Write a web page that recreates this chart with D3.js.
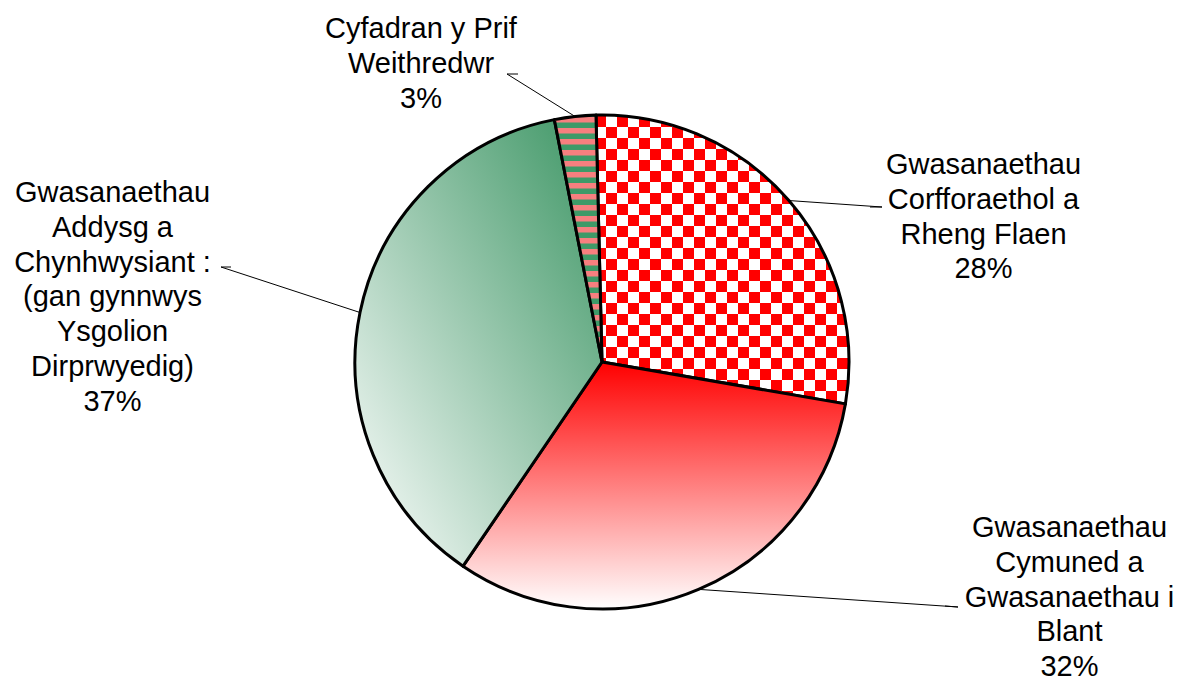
<!DOCTYPE html>
<html>
<head>
<meta charset="utf-8">
<script src="https://cdn.jsdelivr.net/npm/d3@7"></script>
<style>
  html, body { margin: 0; padding: 0; background: #fff; }
  svg { display: block; }
  text { font-family: "Liberation Sans", Arial, sans-serif; fill: #000; }
</style>
</head>
<body>
<svg id="chart" width="1178" height="680"></svg>
<script>
// ---- data ----
const categories = [
  "Gwasanaethau Corfforaethol a Rheng Flaen",
  "Gwasanaethau Cymuned a Gwasanaethau i Blant",
  "Gwasanaethau Addysg a Chynhwysiant : (gan gynnwys Ysgolion Dirprwyedig)",
  "Cyfadran y Prif Weithredwr"
];
const values = [28.1, 31.8, 37.4, 2.7];
const labelLines = [
  ["Gwasanaethau", "Corfforaethol a", "Rheng Flaen"],
  ["Gwasanaethau", "Cymuned a", "Gwasanaethau i", "Blant"],
  ["Gwasanaethau", "Addysg a", "Chynhwysiant :", "(gan gynnwys", "Ysgolion", "Dirprwyedig)"],
  ["Cyfadran y Prif", "Weithredwr"]
];

// ---- layout ----
const W = 1178, H = 680;
const cx = 602, cy = 362, R = 247;
const startDeg = -1.4;
const fontSize = 29, lineH = 34.8;
const labelLayout = [
  { x: 983.5, y: 174,   lead: [[882, 207], [870, 207]] },
  { x: 1069.5, y: 537,  lead: [[958, 607], [945, 606]] },
  { x: 112.5, y: 202,   lead: [[221, 267], [231, 267]] },
  { x: 421,   y: 38,    lead: [[507, 74], [518, 74]] }
];

const svg = d3.select("#chart");
const defs = svg.append("defs");

// checkerboard
const chk = defs.append("pattern").attr("id", "chk")
  .attr("patternUnits", "userSpaceOnUse").attr("width", 22).attr("height", 22)
  .attr("x", 598).attr("y", 117);
chk.append("rect").attr("width", 22).attr("height", 22).attr("fill", "#ffffff");
chk.append("rect").attr("width", 11).attr("height", 11).attr("fill", "#ff0000");
chk.append("rect").attr("x", 11).attr("y", 11).attr("width", 11).attr("height", 11).attr("fill", "#ff0000");

// stripes
const str = defs.append("pattern").attr("id", "str")
  .attr("patternUnits", "userSpaceOnUse").attr("width", 20).attr("height", 11)
  .attr("x", 0).attr("y", 118);
str.append("rect").attr("width", 20).attr("height", 11).attr("fill", "#3e9a68");
str.append("rect").attr("width", 20).attr("height", 5.5).attr("fill", "#f77f7f");

// red gradient
const rg = defs.append("linearGradient").attr("id", "rg")
  .attr("x1", 0).attr("y1", 0).attr("x2", 0).attr("y2", 1);
rg.append("stop").attr("offset", "0%").attr("stop-color", "#ff0000");
rg.append("stop").attr("offset", "100%").attr("stop-color", "#ffffff");

// green gradient
const gg = defs.append("linearGradient").attr("id", "gg")
  .attr("x1", 1).attr("y1", 0).attr("x2", 0).attr("y2", 1);
gg.append("stop").attr("offset", "0%").attr("stop-color", "#3a9462");
gg.append("stop").attr("offset", "100%").attr("stop-color", "#ffffff");

const fills = ["url(#chk)", "url(#rg)", "url(#gg)", "url(#str)"];

const a0 = startDeg * Math.PI / 180;
const pie = d3.pie().sort(null).startAngle(a0).endAngle(a0 + 2 * Math.PI);
const arcs = pie(values);
const arc = d3.arc().innerRadius(0).outerRadius(R);

const g = svg.append("g").attr("transform", `translate(${cx},${cy})`);
g.selectAll("path.slice").data(arcs).enter().append("path")
  .attr("class", "slice")
  .attr("d", arc)
  .attr("fill", (d, i) => fills[i])
  .attr("stroke", "#000").attr("stroke-width", 3).attr("stroke-linejoin", "round");

// leader lines
arcs.forEach((d, i) => {
  const mid = (d.startAngle + d.endAngle) / 2;
  const px = cx + R * Math.sin(mid), py = cy - R * Math.cos(mid);
  const L = labelLayout[i].lead;
  svg.append("path")
    .attr("d", d3.line()([[px, py], L[0], L[1]]))
    .attr("fill", "none").attr("stroke", "#000").attr("stroke-width", 1);
});

// labels
arcs.forEach((d, i) => {
  const lay = labelLayout[i];
  const pct = Math.round(values[i] / d3.sum(values) * 100) + "%";
  const lines = labelLines[i].concat([pct]);
  const t = svg.append("text").attr("text-anchor", "middle").attr("font-size", fontSize);
  lines.forEach((s, k) => {
    t.append("tspan").attr("x", lay.x).attr("y", lay.y + k * lineH).text(s);
  });
});
</script>
</body>
</html>
